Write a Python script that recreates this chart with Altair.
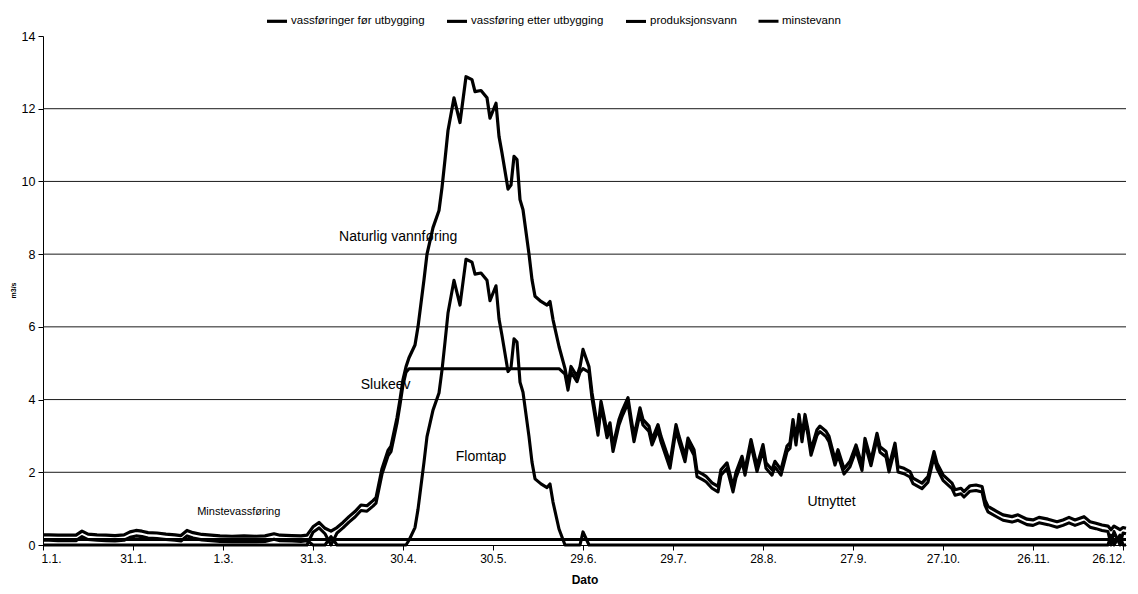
import altair as alt
import pandas as pd

# ---------------- data ----------------
series_names = ["vassføringer før utbygging", "vassføring etter utbygging",
                "produksjonsvann", "minstevann"]

tick_labels = ["1.1.", "31.1.", "1.3.", "31.3.", "30.4.", "30.5.", "29.6.",
               "29.7.", "28.8.", "27.9.", "27.10.", "26.11.", "26.12."]
tick_days = [0, 30, 60, 90, 120, 150, 180, 210, 240, 270, 300, 330, 360]
y_ticks = [0, 2, 4, 6, 8, 10, 12, 14]
grid_values = [2, 4, 6, 8, 10, 12]

# natural flow (vassføringer før utbygging)
natural_days = [
    0, 2, 5, 8, 11, 13, 15, 18, 21, 24, 27, 29, 31, 33, 35, 38, 41, 44, 46, 48,
    50, 53, 56, 59, 63, 67, 71, 74, 77, 79, 83, 86, 88,
    90, 92, 94, 96, 98, 100, 102, 104, 106, 108, 110, 111, 113, 115, 116, 118, 119, 120, 121,
    122, 124, 125, 127, 128, 130, 132, 133, 134, 135, 137, 139, 141, 143, 144, 146, 148, 149,
    151, 152, 153, 155, 156, 157, 158, 159, 160, 162, 163, 164, 166, 168, 169, 170, 172, 174,
    175, 176, 178, 179, 180, 182, 183,
    185, 186, 187, 188, 189, 190, 192, 193, 195, 196,
    197, 199, 200, 202, 203, 205, 206, 209, 211, 212,
    214, 215, 217, 218, 220, 221, 223, 225, 226, 228,
    230, 231, 233, 234, 236, 238, 240, 241, 243, 244,
    246, 248, 249, 250, 251, 252, 253, 254, 255, 256,
    258, 259, 261, 262, 264, 265, 267, 269, 271, 273,
    274, 276, 278, 279, 281, 282, 284, 285, 287, 289,
    290, 293, 295, 297, 298, 300, 303, 304, 306, 307,
    309, 311, 313, 314, 315, 318, 320, 323, 325, 328,
    330, 332, 335, 338, 340, 342, 344, 347, 349, 351,
    353, 355, 356, 357, 359, 360, 361]
natural_vals = [
    0.28, 0.28, 0.27, 0.27, 0.27, 0.38, 0.30, 0.28, 0.27, 0.26, 0.28, 0.36, 0.40, 0.38, 0.34, 0.33, 0.30, 0.28, 0.26, 0.40,
    0.34, 0.29, 0.27, 0.25, 0.24, 0.25, 0.24, 0.25, 0.31, 0.27, 0.26, 0.25, 0.27,
    0.50, 0.62, 0.46, 0.38, 0.48, 0.62, 0.78, 0.92, 1.10, 1.08, 1.22, 1.30, 2.10, 2.60, 2.72, 3.50, 4.00, 4.55, 4.90,
    5.15, 5.50, 6.00, 7.30, 8.00, 8.73, 9.20, 9.83, 10.60, 11.40, 12.30, 11.62, 12.88, 12.80, 12.47, 12.50, 12.30, 11.74,
    12.15, 11.24, 10.78, 9.79, 9.90, 10.69, 10.60, 9.50, 9.22, 8.00, 7.30, 6.84, 6.70, 6.60, 6.70, 6.20, 5.46, 4.85,
    4.41, 4.91, 4.64, 4.90, 5.38, 4.90, 4.18,
    3.17, 3.95, 3.54, 3.10, 3.36, 2.72, 3.45, 3.68, 4.05, 3.50,
    2.99, 3.77, 3.45, 3.27, 2.90, 3.31, 2.99, 2.26, 3.31, 2.99,
    2.44, 2.94, 2.62, 2.03, 1.94, 1.89, 1.71, 1.61, 2.07, 2.26,
    1.61, 2.00, 2.44, 2.07, 2.90, 2.17, 2.76, 2.26, 2.07, 2.30,
    2.07, 2.72, 2.81, 3.45, 2.90, 3.59, 2.99, 3.59, 3.17, 2.62,
    3.17, 3.27, 3.13, 2.99, 2.35, 2.62, 2.10, 2.30, 2.75, 2.20,
    2.93, 2.33, 3.07, 2.70, 2.57, 2.16, 2.80, 2.16, 2.11, 2.02,
    1.84, 1.70, 1.88, 2.57, 2.25, 1.93, 1.70, 1.52, 1.56, 1.47,
    1.63, 1.65, 1.61, 1.24, 1.06, 0.92, 0.83, 0.78, 0.83, 0.71,
    0.69, 0.76, 0.71, 0.64, 0.69, 0.76, 0.69, 0.78, 0.64, 0.60,
    0.55, 0.52, 0.42, 0.52, 0.42, 0.48, 0.46]

# production water (produksjonsvann)
prod_days = [
    0, 88,
    90, 92, 94, 96, 98, 100, 102, 104, 106, 108, 110, 111, 113, 115, 116, 118, 119, 120, 121,
    122, 124, 125, 127, 128, 130, 132, 133, 134, 135, 137, 139, 141, 143, 144, 146, 148, 149,
    151, 152, 153, 155, 156, 157, 158, 159, 160, 162, 163, 164, 166, 168, 169, 170, 172, 174,
    175, 176, 178, 179, 180, 182, 183,
    185, 186, 187, 188, 189, 190, 192, 193, 195, 196,
    197, 199, 200, 202, 203, 205, 206, 209, 211, 212,
    214, 215, 217, 218, 220, 221, 223, 225, 226, 228,
    230, 231, 233, 234, 236, 238, 240, 241, 243, 244,
    246, 248, 249, 250, 251, 252, 253, 254, 255, 256,
    258, 259, 261, 262, 264, 265, 267, 269, 271, 273,
    274, 276, 278, 279, 281, 282, 284, 285, 287, 289,
    290, 293, 295, 297, 298, 300, 303, 304, 306, 307,
    309, 311, 313, 314, 315, 318, 320, 323, 325, 328,
    330, 332, 335, 338, 340, 342, 344, 347, 349, 351,
    353, 355, 356, 357, 359, 360, 361]
prod_vals = [
    0.0, 0.0,
    0.35, 0.47, 0.31, 0.0, 0.33, 0.47, 0.63, 0.77, 0.95, 0.93, 1.07, 1.15, 1.95, 2.45, 2.57, 3.35, 3.85, 4.40, 4.75,
    4.85, 4.85, 4.85, 4.85, 4.85, 4.85, 4.85, 4.85, 4.85, 4.85, 4.85, 4.85, 4.85, 4.85, 4.85, 4.85, 4.85, 4.85,
    4.85, 4.85, 4.85, 4.85, 4.85, 4.85, 4.85, 4.85, 4.85, 4.85, 4.85, 4.85, 4.85, 4.85, 4.85, 4.85, 4.85, 4.70,
    4.26, 4.76, 4.49, 4.75, 4.85, 4.75, 4.03,
    3.02, 3.80, 3.39, 2.95, 3.21, 2.57, 3.30, 3.53, 3.90, 3.35,
    2.84, 3.62, 3.30, 3.12, 2.75, 3.16, 2.84, 2.11, 3.16, 2.84,
    2.29, 2.79, 2.47, 1.88, 1.79, 1.74, 1.56, 1.46, 1.92, 2.11,
    1.46, 1.85, 2.29, 1.92, 2.75, 2.02, 2.61, 2.11, 1.92, 2.15,
    1.92, 2.57, 2.66, 3.30, 2.75, 3.44, 2.84, 3.44, 3.02, 2.47,
    3.02, 3.12, 2.98, 2.84, 2.20, 2.47, 1.95, 2.15, 2.60, 2.05,
    2.78, 2.18, 2.92, 2.55, 2.42, 2.01, 2.65, 2.01, 1.96, 1.87,
    1.69, 1.55, 1.73, 2.42, 2.10, 1.78, 1.55, 1.37, 1.41, 1.32,
    1.48, 1.50, 1.46, 1.09, 0.91, 0.77, 0.68, 0.63, 0.68, 0.56,
    0.54, 0.61, 0.56, 0.49, 0.54, 0.61, 0.54, 0.63, 0.49, 0.45,
    0.40, 0.37, 0.0, 0.37, 0.0, 0.33, 0.31]

# flow after development (vassføring etter utbygging) - spill / flood loss
after_days = [
    0, 2, 5, 8, 11, 13, 15, 18, 21, 24, 27, 29, 31, 33, 35, 38, 41, 44, 46, 48,
    50, 53, 56, 59, 63, 67, 71, 74, 77, 79, 83, 86, 88,
    90, 94, 96, 98, 121,
    122, 124, 125, 127, 128, 130, 132, 133, 134, 135, 137, 139, 141, 143, 144, 146, 148, 149,
    151, 152, 153, 155, 156, 157, 158, 159, 160, 162, 163, 164, 166, 168, 169, 170, 172, 174,
    175, 176, 178, 179, 180, 182, 183,
    185, 355, 356, 357, 359, 360, 361]
after_vals = [
    0.13, 0.13, 0.12, 0.12, 0.12, 0.23, 0.15, 0.13, 0.12, 0.11, 0.13, 0.21, 0.25, 0.23, 0.19, 0.18, 0.15, 0.13, 0.11, 0.25,
    0.19, 0.14, 0.12, 0.10, 0.09, 0.10, 0.09, 0.10, 0.16, 0.12, 0.11, 0.10, 0.12,
    0.0, 0.0, 0.23, 0.0, 0.0,
    0.13, 0.48, 0.98, 2.28, 2.98, 3.71, 4.18, 4.81, 5.58, 6.38, 7.28, 6.60, 7.86, 7.78, 7.45, 7.48, 7.28, 6.72,
    7.13, 6.22, 5.76, 4.77, 4.88, 5.67, 5.58, 4.48, 4.20, 2.98, 2.28, 1.82, 1.68, 1.58, 1.68, 1.18, 0.44, 0.0,
    0.0, 0.0, 0.0, 0.0, 0.36, 0.0, 0.0,
    0.0, 0.0, 0.27, 0.0, 0.27, 0.0, 0.0]

# minimum flow (minstevann)
min_days = [0, 361]
min_vals = [0.15, 0.15]

# annotations
big_labels = ["Naturlig vannføring", "Slukeev", "Flomtap", "Utnyttet"]
big_days = [98.7, 105.9, 137.6, 254.8]
big_vals = [8.48, 4.40, 2.43, 1.19]
small_labels = ["Minstevassføring"]
small_days = [51.4]
small_vals = [0.92]

# ---------------- build table ----------------
rows = []
for name, dd, vv in [(series_names[3], min_days, min_vals),
                     (series_names[0], natural_days, natural_vals),
                     (series_names[2], prod_days, prod_vals),
                     (series_names[1], after_days, after_vals)]:
    for d, v in zip(dd, vv):
        rows.append({"dag": d, "verdi": v, "serie": name})
df = pd.DataFrame(rows)

FONT = "Liberation Sans"
label_expr = "[" + ",".join("'%s'" % t for t in tick_labels) + "][round(datum.value/30)]"

xscale = alt.Scale(domain=[0, 361], nice=False, zero=False)
yscale = alt.Scale(domain=[0, 14], nice=False)

xaxis = alt.Axis(values=tick_days, labelExpr=label_expr, title="Dato",
                 titleFontSize=12, titleFontWeight="bold", titleFont=FONT,
                 titleColor="black", titlePadding=10,
                 labelFontSize=12, labelFont=FONT, labelColor="black",
                 labelPadding=3, tickSize=5, tickColor="black",
                 domainColor="black", labelFlush=8, labelFlushOffset=2,
                 grid=False)
yaxis = alt.Axis(values=y_ticks, title="m3/s", titleFontSize=7,
                 titleFontWeight="bold", titleFont=FONT, titleColor="black",
                 titleX=-27, titleY=254, titleAngle=270,
                 labelFontSize=12.5, labelFont=FONT, labelColor="black",
                 labelPadding=3, tickSize=5, tickColor="black",
                 domainColor="black", grid=False)

legend = alt.Legend(title=None, orient="none", legendX=222, legendY=-27,
                    direction="horizontal", symbolType="stroke", symbolSize=400,
                    labelFontSize=11.5, labelFont=FONT, labelColor="black",
                    columnPadding=15, labelOffset=2)

grid_df = pd.DataFrame({"verdi": grid_values})
grid = alt.Chart(grid_df).mark_rule(color="#1a1a1a", strokeWidth=1).encode(
    y=alt.Y("verdi:Q", scale=yscale, axis=yaxis))

lines = alt.Chart(df).mark_line(strokeJoin="round", strokeCap="butt").encode(
    x=alt.X("dag:Q", scale=xscale, axis=xaxis),
    y=alt.Y("verdi:Q", scale=yscale, axis=yaxis),
    color=alt.Color("serie:N", scale=alt.Scale(domain=series_names,
                                               range=["#000000"] * 4), legend=legend),
    strokeWidth=alt.StrokeWidth("serie:N", scale=alt.Scale(domain=series_names,
                                                           range=[3.2, 3.0, 2.3, 1.3]),
                                legend=legend),
)

big_df = pd.DataFrame({"dag": big_days, "verdi": big_vals, "txt": big_labels})
small_df = pd.DataFrame({"dag": small_days, "verdi": small_vals, "txt": small_labels})

big_text = alt.Chart(big_df).mark_text(align="left", baseline="middle", fontSize=14,
                                       font=FONT, color="black").encode(
    x=alt.X("dag:Q", scale=xscale, axis=xaxis),
    y=alt.Y("verdi:Q", scale=yscale, axis=yaxis), text="txt:N")
small_text = alt.Chart(small_df).mark_text(align="left", baseline="middle", fontSize=11,
                                           font=FONT, color="black").encode(
    x=alt.X("dag:Q", scale=xscale, axis=xaxis),
    y=alt.Y("verdi:Q", scale=yscale, axis=yaxis), text="txt:N")

chart = alt.layer(grid, lines, big_text, small_text).properties(
    width=1083, height=509,
    padding={"left": 35, "top": 28, "right": 4, "bottom": 41},
    autosize=alt.AutoSizeParams(type="none"),
    background="white",
).configure_view(stroke=None)

chart.save("out.html", embed_options={"renderer": "svg", "actions": False})
